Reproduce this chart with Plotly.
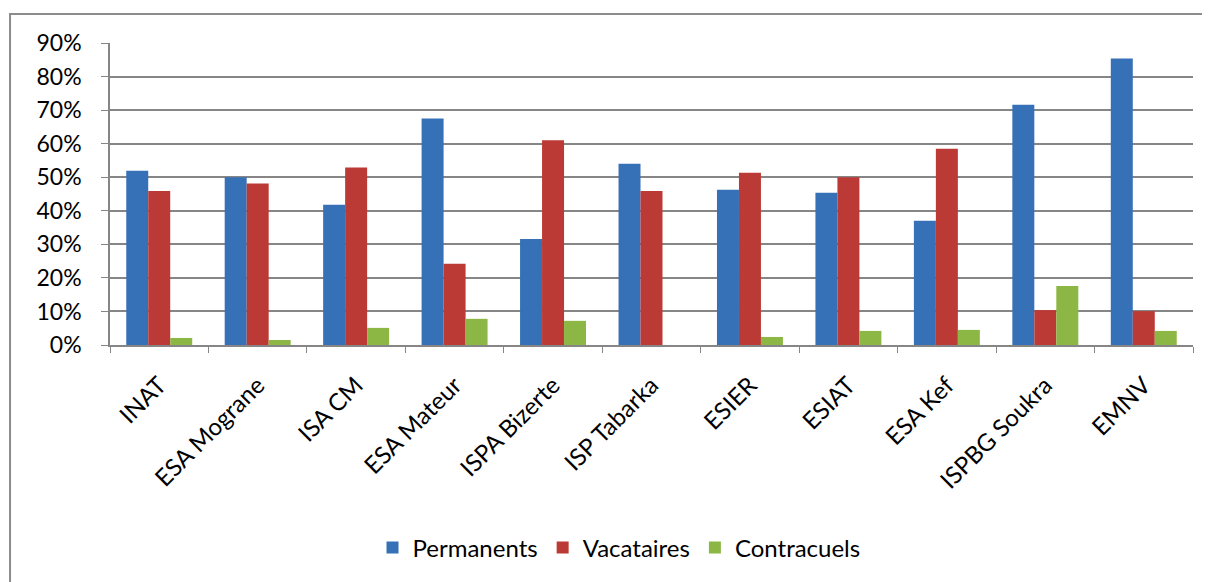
import plotly.graph_objects as go

categories = ["INAT", "ESA Mograne", "ISA CM", "ESA Mateur", "ISPA Bizerte", "ISP Tabarka",
              "ESIER", "ESIAT", "ESA Kef", "ISPBG Soukra", "EMNV"]
permanents = [0.519, 0.500, 0.418, 0.675, 0.316, 0.540, 0.463, 0.454, 0.370, 0.716, 0.854]
vacataires = [0.459, 0.481, 0.529, 0.242, 0.610, 0.459, 0.513, 0.500, 0.585, 0.104, 0.101]
contracuels = [0.021, 0.015, 0.051, 0.078, 0.072, 0.0, 0.024, 0.042, 0.045, 0.176, 0.042]
y_ticks = [0, 0.1, 0.2, 0.3, 0.4, 0.5, 0.6, 0.7, 0.8, 0.9]

FONT = "Lato"
fig = go.Figure()
fig.add_bar(x=categories, y=permanents, name="Permanents", marker=dict(color="#3670B6", line=dict(width=0)))
fig.add_bar(x=categories, y=vacataires, name="Vacataires", marker=dict(color="#BC3A35", line=dict(width=0)))
fig.add_bar(x=categories, y=contracuels, name="Contracuels", marker=dict(color="#8DB745", line=dict(width=0)))

fig.update_layout(
    width=1202, height=574,
    margin=dict(l=102, r=17, t=35, b=237),
    paper_bgcolor="white", plot_bgcolor="white",
    barmode="group", bargap=0.33, bargroupgap=0,
    font=dict(family=FONT, size=23, color="black"),
    showlegend=True,
    legend=dict(orientation="h", x=0.47, xanchor="center", y=-0.672, yanchor="middle",
                font=dict(size=24), itemwidth=30, tracegroupgap=0),
    shapes=[dict(type="rect", xref="paper", yref="paper", x0=-0.0923, y0=1.096, x1=1.2, y1=-1.2,
                 line=dict(color="#8C8C8C", width=2), layer="below")],
)
fig.update_xaxes(showline=True, linecolor="#868686", linewidth=1.5, ticks="outside",
                 tickson="boundaries", ticklen=6, tickcolor="#868686", tickangle=-45,
                 tickfont=dict(size=24), showgrid=False, ticklabelstandoff=15)
fig.update_yaxes(range=[0, 0.9], tickvals=y_ticks, tickformat=".0%", showline=True,
                 linecolor="#868686", linewidth=1.5, ticks="outside", ticklen=7,
                 tickcolor="#868686", showgrid=True, gridcolor="#868686", gridwidth=1.5,
                 tickfont=dict(size=23), ticklabelstandoff=15, zeroline=False)

fig.write_html("out.html")
